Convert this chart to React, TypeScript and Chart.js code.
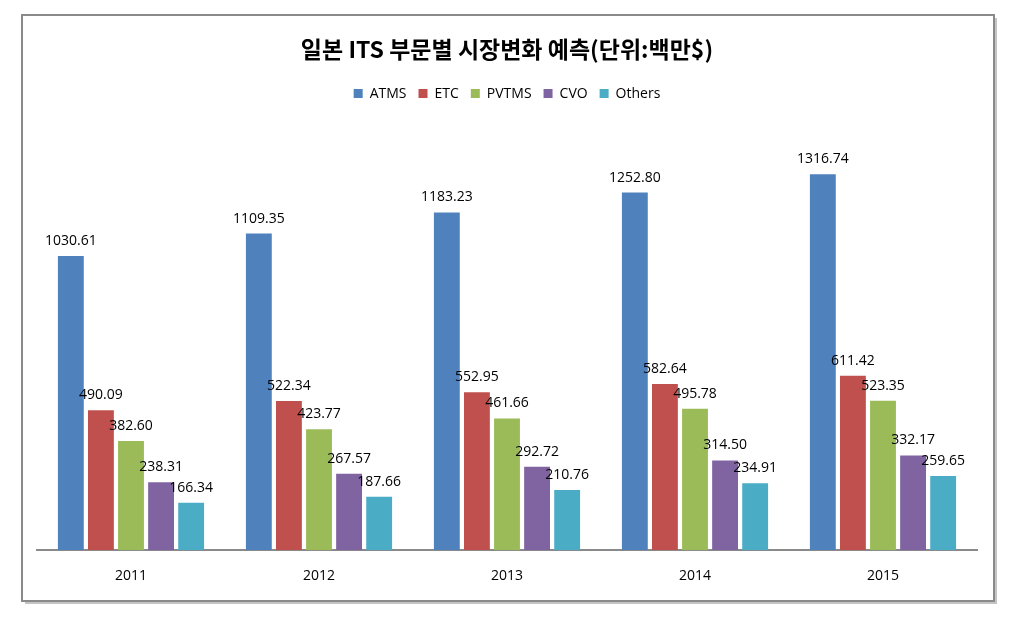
import React, { useEffect, useRef } from "react";
import { Chart, registerables } from "chart.js";

Chart.register(...registerables);

const categories = ["2011", "2012", "2013", "2014", "2015"];
const seriesNames = ["ATMS", "ETC", "PVTMS", "CVO", "Others"];
const atms = [1030.61, 1109.35, 1183.23, 1252.8, 1316.74];
const etc = [490.09, 522.34, 552.95, 582.64, 611.42];
const pvtms = [382.6, 423.77, 461.66, 495.78, 523.35];
const cvo = [238.31, 267.57, 292.72, 314.5, 332.17];
const others = [166.34, 187.66, 210.76, 234.91, 259.65];
const colors = ["#4F81BD", "#C0504D", "#9BBB59", "#8064A2", "#4BACC6"];
const titleText = "일본 ITS 부문별 시장변화 예측(단위:백만$)";

const LATIN = '"Open Sans", "DejaVu Sans", sans-serif';
const KOREAN = '"Noto Sans CJK KR", "Open Sans", sans-serif';
const LEGEND_EXTRA = 40;

const framePlugin = {
  id: "frame",
  beforeDraw(chart: any) {
    const ctx = chart.ctx;
    ctx.save();
    ctx.fillStyle = "#ffffff";
    ctx.fillRect(0, 0, chart.width, chart.height);
    ctx.fillStyle = "#c4c4c4";
    ctx.fillRect(25, 18, 972, 586);
    ctx.fillStyle = "#ffffff";
    ctx.fillRect(22, 15, 972, 586);
    ctx.strokeStyle = "#8a8a8a";
    ctx.lineWidth = 2;
    ctx.strokeRect(22, 15, 972, 586);
    ctx.restore();
  },
};

const legendSpacer = {
  id: "legendSpacer",
  beforeInit(chart: any) {
    const legend = chart.legend;
    if (!legend) return;
    const orig = legend.fit;
    legend.fit = function () {
      orig.call(this);
      this.height += LEGEND_EXTRA;
    };
  },
};

const valueLabels = {
  id: "valueLabels",
  afterDatasetsDraw(chart: any) {
    const ctx = chart.ctx;
    ctx.save();
    ctx.font = `14px ${LATIN}`;
    ctx.fillStyle = "#000000";
    ctx.textAlign = "center";
    ctx.textBaseline = "middle";
    chart.data.datasets.forEach((ds: any, i: number) => {
      const meta = chart.getDatasetMeta(i);
      meta.data.forEach((bar: any, j: number) => {
        const v = ds.data[j] as number;
        ctx.fillText(v.toFixed(2), bar.x, bar.y - 15);
      });
    });
    ctx.restore();
  },
};

export default function App() {
  const ref = useRef<HTMLCanvasElement | null>(null);
  useEffect(() => {
    if (!ref.current) return;
    const series = [atms, etc, pvtms, cvo, others];
    const chart = new Chart(ref.current, {
      type: "bar",
      data: {
        labels: categories,
        datasets: series.map((d, i) => ({
          label: seriesNames[i],
          data: d,
          backgroundColor: colors[i],
          borderWidth: 0,
          categoryPercentage: 0.8,
          barPercentage: 0.86,
        })),
      },
      options: {
        responsive: false,
        animation: false,
        devicePixelRatio: 1,
        layout: { padding: { left: 37, right: 34, top: 0, bottom: 16 } },
        plugins: {
          title: {
            display: true,
            text: titleText,
            color: "#000000",
            font: { family: KOREAN, size: 23, weight: "bold" },
            padding: { top: 35, bottom: 12 },
          },
          legend: {
            display: true,
            position: "top",
            labels: {
              boxWidth: 9,
              boxHeight: 9,
              padding: 12,
              color: "#000000",
              font: { family: LATIN, size: 14 },
            },
          },
          tooltip: { enabled: false },
        },
        scales: {
          x: {
            grid: { display: false, drawTicks: false },
            border: { display: true, color: "#8a8a8a", width: 2 },
            ticks: { color: "#000000", font: { family: LATIN, size: 14 }, padding: 17 },
          },
          y: { display: false, min: 0, max: 1400 },
        },
      },
      plugins: [framePlugin, legendSpacer, valueLabels],
    });
    return () => chart.destroy();
  }, []);
  return (
    <div style={{ position: "absolute", left: 0, top: 0, width: 1011, height: 617 }}>
      <canvas ref={ref} width={1011} height={617} style={{ display: "block", width: 1011, height: 617 }} />
    </div>
  );
}
